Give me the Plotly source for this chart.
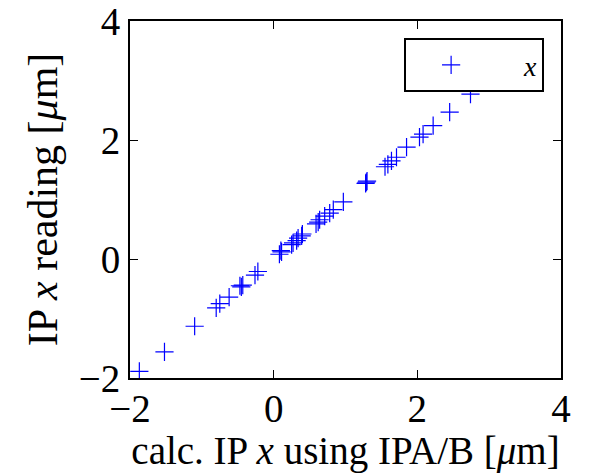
import plotly.graph_objects as go

calc_x = [-1.87, -1.52, -1.10, -0.80, -0.75, -0.62, -0.45, -0.43, -0.47, -0.26, -0.22,
          0.08, 0.11, 0.10, 0.25, 0.27, 0.32, 0.34, 0.39, 0.40, 0.59, 0.62, 0.64, 0.71,
          0.78, 0.83, 0.97, 1.28, 1.29, 1.30, 1.55, 1.59, 1.64, 1.71, 1.85, 2.03, 2.08,
          2.22, 2.45, 2.74]
reading_x = [-1.89, -1.56, -1.13, -0.82, -0.75, -0.64, -0.47, -0.44, -0.45, -0.27, -0.21,
             0.08, 0.12, 0.14, 0.24, 0.27, 0.31, 0.35, 0.39, 0.42, 0.59, 0.62, 0.66, 0.72,
             0.77, 0.83, 0.96, 1.27, 1.29, 1.31, 1.55, 1.59, 1.65, 1.71, 1.88, 2.05, 2.10,
             2.24, 2.47, 2.77]
tick_vals = [-2, 0, 2, 4]
tick_text = ["\u22122", "0", "2", "4"]

FONT = "Liberation Serif"

fig = go.Figure()
fig.add_trace(go.Scatter(
    x=calc_x, y=reading_x, mode="markers",
    name="&nbsp;&nbsp;&nbsp;&nbsp;<i>x</i>",
    marker=dict(symbol="cross-thin", size=13, color="blue",
                line=dict(color="blue", width=1.2)),
))

axis_common = dict(
    range=[-2, 4], tickvals=tick_vals, ticktext=tick_text, automargin=False,
    showgrid=False, zeroline=False, showline=True, linecolor="black", linewidth=2,
    mirror="allticks", ticks="inside", ticklen=8, tickwidth=1, tickcolor="black",
    tickfont=dict(family=FONT, size=39, color="black"),
    ticklabeloverflow="allow",
)

fig.update_layout(
    width=606, height=473,
    margin=dict(l=130, r=45, t=21, b=95),
    paper_bgcolor="white", plot_bgcolor="white",
    font=dict(family=FONT, color="black"),
    xaxis=dict(**axis_common, ticklabelstandoff=-5,
               title=dict(text="calc. IP <i>x</i> using IPA/B [<i>\u03bc</i>m]",
                          font=dict(family=FONT, size=39), standoff=0)),
    yaxis=dict(**axis_common,
               title=dict(text="IP <i>x</i> reading [<i>\u03bc</i>m]",
                          font=dict(family=FONT, size=42), standoff=8)),
    showlegend=True,
    legend=dict(x=0.636, y=0.952, xanchor="left", yanchor="top",
                bordercolor="black", borderwidth=2, bgcolor="white",
                font=dict(family=FONT, size=28), itemwidth=80),
)

fig.write_html("out.html")
